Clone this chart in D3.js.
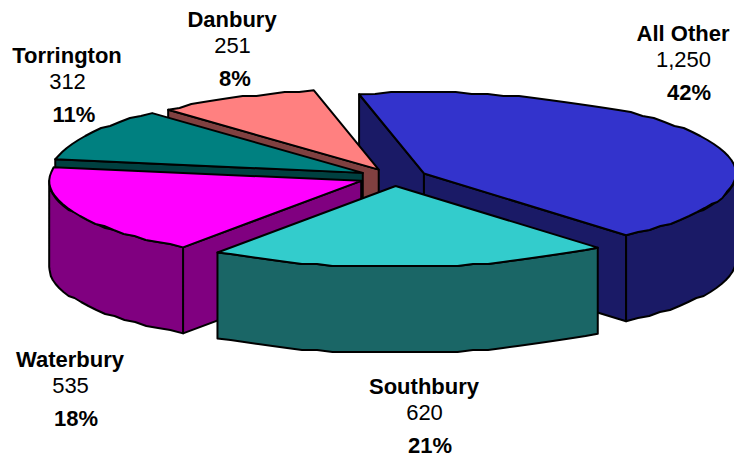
<!DOCTYPE html>
<html>
<head>
<meta charset="utf-8">
<script src="https://cdn.jsdelivr.net/npm/d3@7"></script>
<style>
html,body{margin:0;padding:0;background:#fff;overflow:hidden}
svg{display:block}
text{font-family:"Liberation Sans",Arial,sans-serif;fill:#000;text-anchor:middle}
</style>
</head>
<body>
<svg id="chart" width="734" height="455"></svg>
<script>
const categories = ["All Other","Southbury","Waterbury","Torrington","Danbury"];
const values = [1250,620,535,312,251];
const percents = ["42%","21%","18%","11%","8%"];
const topColors = ["#3333CC","#33CCCC","#FF00FF","#008080","#FF8080"];
const sideColors = ["#1A1A66","#1A6666","#800080","#004040","#804040"];
const explodeBy = [0.107,0.107,0.114,0.114,0.107];
const labelAnchors = [[683,41],[424,394],[70,367],[67,63],[232,27]];
const percentShift = [6,6,6,7,3];
const drawOrder = [0,4,3,2,1];

const rx=312, ry=81, depth=86, cx=394, cy=177.3, grid=2;
const deg=Math.PI/180;
const svg=d3.select("#chart");
const sx=d3.scaleLinear().domain([-1,1]).range([cx-rx,cx+rx]);
const sy=d3.scaleLinear().domain([-1,1]).range([cy-ry,cy+ry]);

const arcs=d3.pie().sort(null).value((d,i)=>values[i])
  .startAngle(-12*deg).endAngle(348*deg)(categories);

function pt(c,t,dz){return [sx(c[0]+Math.sin(t)),sy(c[1]-Math.cos(t))+dz];}
const line=d3.line();
function rim(c,a,b,dz){
  const n=Math.max(2,Math.ceil(Math.abs(b-a)/(3*deg)));
  return d3.range(n+1).map(i=>{
    const p=pt(c,a+(b-a)*i/n,dz);
    if(i===0||i===n) return p;
    return [p[0],Math.round(p[1]/grid)*grid];
  });
}
const style=(sel,fill)=>sel.attr("fill",fill).attr("stroke","#000")
  .attr("stroke-width",2).attr("stroke-linejoin","round");

drawOrder.forEach(i=>{
  const d=arcs[i], a=d.startAngle, b=d.endAngle, m=(a+b)/2, e=explodeBy[i];
  const c=[e*Math.sin(m),-e*Math.cos(m)];
  const g=svg.append("g").attr("class","slice");
  const apex=[sx(c[0]),sy(c[1])];
  const apexLow=[apex[0],apex[1]+depth];
  function cut(t){
    const p=pt(c,t,0),q=pt(c,t,depth);
    style(g.append("path").attr("d",line([apex,p,q,apexLow])+"Z"),sideColors[i]);
  }
  if(Math.sin(a)<0) cut(a);
  if(Math.sin(b)>0) cut(b);
  const w0=Math.max(a,90*deg), w1=Math.min(b,270*deg);
  if(w1>w0){
    const up=rim(c,w0,w1,0), dn=rim(c,w1,w0,depth);
    style(g.append("path").attr("d",line(up.concat(dn))+"Z"),sideColors[i]);
  }
  style(g.append("path").attr("d",line([apex].concat(rim(c,a,b,0)))+"Z"),topColors[i]);
});

const fs=22;
categories.forEach((name,i)=>{
  const [x,y]=labelAnchors[i];
  const g=svg.append("g").attr("class","label");
  g.append("text").attr("x",x).attr("y",y).attr("font-size",fs).attr("font-weight","bold").text(name);
  g.append("text").attr("x",x+0.5).attr("y",y+25.5).attr("font-size",fs).text(d3.format(",")(values[i]));
  g.append("text").attr("x",x+percentShift[i]).attr("y",y+58.5).attr("font-size",fs).attr("font-weight","bold").text(percents[i]);
});
</script>
</body>
</html>
